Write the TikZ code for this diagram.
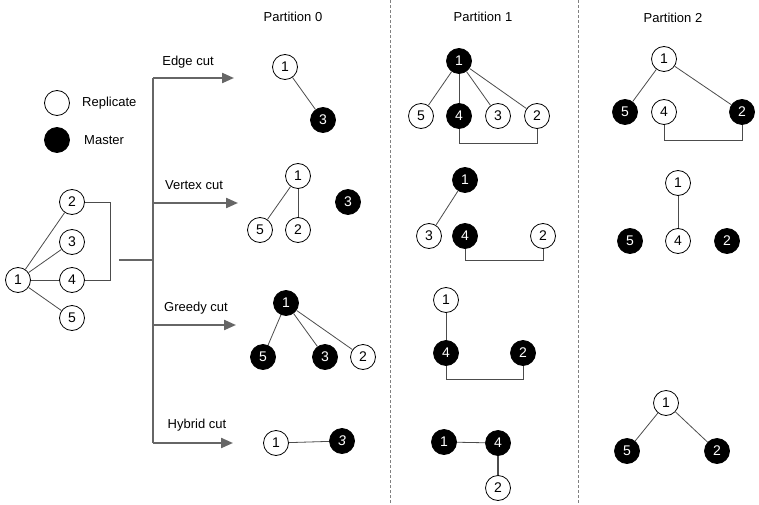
\documentclass[tikz,border=0pt]{standalone}
\usepackage{fontspec}
\setmainfont{Liberation Sans}
\usetikzlibrary{arrows.meta}
\definecolor{cutgray}{rgb}{0.40,0.40,0.40}
\definecolor{linkgray}{rgb}{0.30,0.30,0.30}
\tikzset{
  rep/.style={
    circle,
    draw=black,
    line width=0.8pt,
    fill=white,
    minimum size=25pt,
    inner sep=0pt,
    font=\fontsize{14}{16}\selectfont
  },
  mst/.style={
    rep,
    fill=black,
    text=white
  },
  link/.style={
    draw=linkgray,
    line width=0.8pt
  },
  trunk/.style={
    draw=cutgray,
    line width=2.2pt
  },
  cutarrow/.style={
    trunk,
    -{Triangle[length=12pt,width=10pt]}
  },
  lbl/.style={
    font=\fontsize{13}{15}\selectfont,
    inner sep=0pt
  },
  sep/.style={
    draw=gray,
    line width=0.8pt,
    dash pattern=on 3pt off 2pt
  }
}

\begin{document}
\begin{tikzpicture}[x=1pt,y=-1pt]
\useasboundingbox (0,0) rectangle (759,505);
% headers and separators
\node[lbl] (h0) at (293,17) {Partition 0};
\node[lbl] (h1) at (483,17) {Partition 1};
\node[lbl] (h2) at (673,18) {Partition 2};
\draw[sep] (390,0) -- (390,505);
\draw[sep] (578,0) -- (578,505);
% legend
\node[rep] (legr) at (57,103) {};
\node[lbl,anchor=west] (legrt) at (82,103) {Replicate};
\node[mst] (legm) at (57,140) {};
\node[lbl,anchor=west] (legmt) at (84,140) {Master};
% original graph
\node[rep] (g1) at (18,280) {1};
\node[rep] (g2) at (72,202) {2};
\node[rep] (g3) at (72,242) {3};
\node[rep] (g4) at (72,280) {4};
\node[rep] (g5) at (72,318) {5};
\draw[link] (g1) -- (g2);
\draw[link] (g1) -- (g3);
\draw[link] (g1) -- (g4);
\draw[link] (g1) -- (g5);
\draw[link] (g2.east) -- ++(25,0) |- (g4.east);
% cut arrows
\coordinate (tin) at (119,260);
\coordinate (tjoin) at (153,260);
\coordinate (ttop) at (153,78);
\coordinate (tvx) at (153,203);
\coordinate (tgr) at (153,325);
\coordinate (tbot) at (153,443);
\coordinate (aedge) at (234,78);
\coordinate (avx) at (238,203);
\coordinate (agr) at (236,325);
\coordinate (ahy) at (233,443);
\draw[trunk] (tin) -- (tjoin);
\draw[trunk] (ttop) -- (tbot);
\draw[cutarrow] (ttop) -- (aedge);
\draw[cutarrow] (tvx) -- (avx);
\draw[cutarrow] (tgr) -- (agr);
\draw[cutarrow] (tbot) -- (ahy);
\node[lbl] (ledge) at (188,62) {Edge cut};
\node[lbl] (lvx) at (194,185) {Vertex cut};
\node[lbl] (lgr) at (196,308) {Greedy cut};
\node[lbl] (lhy) at (197,425) {Hybrid cut};
% partition 0
\node[rep] (p0e1) at (285,67) {1};
\node[mst] (p0e3) at (323,120) {3};
\draw[link] (p0e1) -- (p0e3);
\node[rep] (p0v1) at (298,176) {1};
\node[rep] (p0v5) at (260,230) {5};
\node[rep] (p0v2) at (298,230) {2};
\node[mst] (p0v3) at (348,202) {3};
\draw[link] (p0v1) -- (p0v5);
\draw[link] (p0v1) -- (p0v2);
\node[mst] (p0g1) at (286,303) {1};
\node[mst] (p0g5) at (263,357) {5};
\node[mst] (p0g3) at (325,357) {3};
\node[rep] (p0g2) at (363,357) {2};
\draw[link] (p0g1) -- (p0g5);
\draw[link] (p0g1) -- (p0g3);
\draw[link] (p0g1) -- (p0g2);
\node[rep] (p0h1) at (276,443) {1};
\node[mst] (p0h3) at (342,441) {\itshape 3};
\draw[link] (p0h1) -- (p0h3);
% partition 1
\node[mst] (p1e1) at (459,61) {1};
\node[rep] (p1e5) at (421,116) {5};
\node[mst] (p1e4) at (459,116) {4};
\node[rep] (p1e3) at (498,116) {3};
\node[rep] (p1e2) at (537,116) {2};
\foreach \n in {5,4,3,2}
  \draw[link] (p1e1) -- (p1e\n);
\draw[link] (p1e4.south) -- ++(0,15) -| (p1e2.south);
\node[mst] (p1v1) at (465,180) {1};
\node[rep] (p1v3) at (429,236) {3};
\node[mst] (p1v4) at (465,236) {4};
\node[rep] (p1v2) at (543,236) {2};
\draw[link] (p1v1) -- (p1v3);
\draw[link] (p1v4.south) -- ++(0,11) -| (p1v2.south);
\node[rep] (p1g1) at (446,300) {1};
\node[mst] (p1g4) at (446,353) {4};
\node[mst] (p1g2) at (523,353) {2};
\draw[link] (p1g1) -- (p1g4);
\draw[link] (p1g4.south) -- ++(0,13) -| (p1g2.south);
\node[mst] (p1h1) at (444,442) {1};
\node[mst] (p1h4) at (498,443) {4};
\node[rep] (p1h2) at (498,488) {2};
\draw[link] (p1h1) -- (p1h4);
\draw[link,line width=1.5pt] (p1h4) -- (p1h2);
% partition 2
\node[rep] (p2e1) at (664,59) {1};
\node[mst] (p2e5) at (625,112) {5};
\node[rep] (p2e4) at (664,112) {4};
\node[mst] (p2e2) at (742,112) {2};
\draw[link] (p2e1) -- (p2e5);
\draw[link] (p2e1) -- (p2e2);
\draw[link] (p2e4.south) -- ++(0,16) -| (p2e2.south);
\node[rep] (p2v1) at (678,183) {1};
\node[rep] (p2v4) at (678,241) {4};
\node[mst] (p2v5) at (630,241) {5};
\node[mst] (p2v2) at (727,241) {2};
\draw[link] (p2v1) -- (p2v4);
\node[rep] (p2h1) at (666,403) {1};
\node[mst] (p2h5) at (627,451) {5};
\node[mst] (p2h2) at (717,451) {2};
\draw[link] (p2h1) -- (p2h5);
\draw[link] (p2h1) -- (p2h2);
\end{tikzpicture}
\end{document}
